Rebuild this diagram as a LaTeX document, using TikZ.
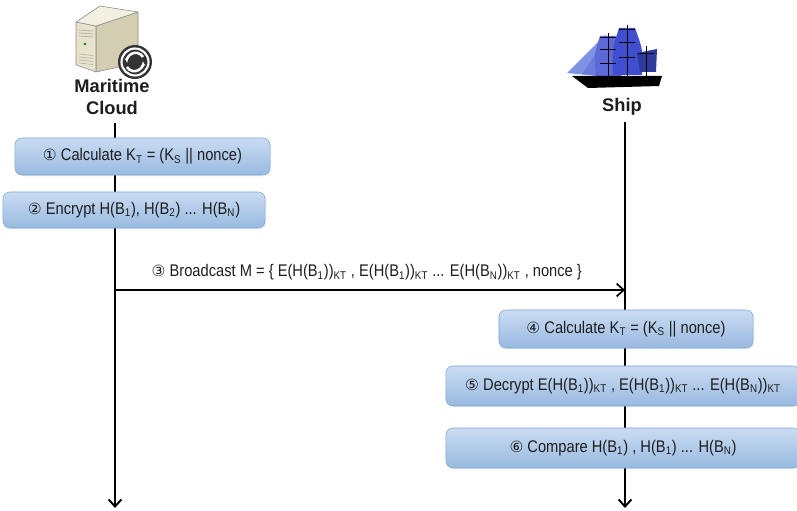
\documentclass[tikz,border=0pt]{standalone}
\usepackage{fontspec}
\setmainfont{Liberation Sans}[FakeStretch=0.87]
\newfontfamily\actorfont{Liberation Sans}
\newfontfamily\circfont{DejaVu Sans}
\usepackage{tikz}
\usetikzlibrary{arrows.meta, positioning, shadows}
\definecolor{boxtop}{HTML}{CADCF2}
\definecolor{boxbottom}{HTML}{98B9E0}
\definecolor{boxedge}{HTML}{7FA6D5}
\definecolor{inkgray}{HTML}{1E1E1E}
\definecolor{caseface}{HTML}{E6E2CC}
\definecolor{caseside}{HTML}{D3CEB2}
\definecolor{casetop}{HTML}{F3F0E2}
\definecolor{sailblue}{HTML}{3F4FCF}
\definecolor{saillight}{HTML}{8090E2}
\newcommand{\lo}[1]{\textsubscript{#1}}
\newcommand{\stepno}[1]{{\circfont\fontsize{11}{13}\selectfont #1}}
\tikzset{
    stepbox/.style={rectangle, rounded corners=5pt, draw=boxedge, top color=boxtop, bottom color=boxbottom, text=inkgray, font=\fontsize{12}{14}\selectfont, inner sep=0pt, drop shadow={opacity=0.12, shadow xshift=1pt, shadow yshift=-1pt}},
    actor/.style={align=center, font=\actorfont\fontsize{13}{15}\selectfont\bfseries, text=inkgray},
    lifeline/.style={line width=1.4pt, -{Straight Barb[length=5pt, width=9pt]}},
    message/.style={line width=1.2pt, -{Straight Barb[length=5pt, width=9pt]}}
}

\begin{document}
\begin{tikzpicture}[x=0.025cm, y=-0.025cm]
    \clip (0,0) rectangle (797,511);

    % server
    \begin{scope}[draw=black!45, line join=round]
        \filldraw[fill=caseside] (96,26) -- (138,12) -- (138,63) -- (96,72) -- cycle;
        \filldraw[fill=caseface] (76,22) -- (96,26) -- (96,72) -- (76,65) -- cycle;
        \filldraw[fill=casetop] (76,22) -- (100,6) -- (138,12) -- (96,26) -- cycle;
        \foreach \y in {30,33,36}
            \draw[black!35] (79,\y) -- (93,\y+1);
        \fill[green!55!black] (85,44) circle (1.3);
        \foreach \y in {54,57,60,63}
            \draw[black!30] (79,\y) -- (93,\y+1.5);
        \fill[black!80] (135,62) circle (17);
        \draw[white, line width=1.5pt] (135,62) circle (13.5);
        \draw[white, line width=1.8pt, -{Stealth[length=3.5pt]}] (143,57) arc (-30:-190:8.5);
        \draw[white, line width=1.8pt, -{Stealth[length=3.5pt]}] (127,67) arc (150:-10:8.5);
    \end{scope}
    \node[actor] (cloud) at (112,97) {Maritime\\Cloud};

    % ship
    \fill[saillight] (567,73) -- (606,34) .. controls (598,50) .. (607,77) -- cycle;
    \fill[saillight!70!sailblue] (582,74) -- (606,38) -- (607,76) -- cycle;
    \fill[sailblue!85] (600,36) -- (616,36) .. controls (622,55) .. (621,77) -- (596,77) .. controls (594,55) .. cycle;
    \fill[sailblue] (619,28) -- (635,28) .. controls (643,50) .. (642,75) -- (613,75) .. controls (612,50) .. cycle;
    \fill[sailblue!75!black] (637,53) -- (657,49) -- (656,72) -- (640,72) -- cycle;
    \foreach \m/\t in {608/33, 627/25, 646/46}
        \draw[black, line width=0.6pt] (\m,\t) -- (\m,78);
    \foreach \m/\h in {608/37, 608/49, 608/63, 627/29, 627/42, 627/57, 646/53}
        \draw[black, line width=0.5pt] (\m-8,\h) -- (\m+8,\h);
    \fill[black] (572,76) -- (662,76) -- (659,86) -- (588,88) -- cycle;
    \node[actor] (ship) at (622,107) {Ship};

    % lifelines
    \coordinate (cloudTop) at (115,123);
    \coordinate (cloudEnd) at (115,508);
    \coordinate (shipTop) at (625,122);
    \coordinate (shipEnd) at (625,508);
    \draw[lifeline] (cloudTop) -- (cloudEnd);
    \draw[lifeline] (shipTop) -- (shipEnd);

    % cloud side
    \node[stepbox, minimum width=6.375cm, minimum height=0.925cm] (s1) at (142.5,156.5)
        {\stepno{①} Calculate K\lo{T} = (K\lo{S} || nonce)};
    \node[stepbox, minimum width=6.55cm, minimum height=0.9cm] (s2) at (134,210)
        {\stepno{②} Encrypt H(B\lo{1}), H(B\lo{2}) ... H(B\lo{N})};

    % broadcast
    \coordinate (cloudMsg) at (115,290);
    \coordinate (shipMsg) at (625,290);
    \draw[message] (cloudMsg) -- (shipMsg)
        node[midway, above=3pt, xshift=-0.08cm, text=inkgray, font=\fontsize{12}{14}\selectfont] (msg)
        {\stepno{③} Broadcast M = \{ E(H(B\lo{1}))\lo{KT} , E(H(B\lo{1}))\lo{KT} ... E(H(B\lo{N}))\lo{KT} , nonce \}};

    % ship side
    \node[stepbox, minimum width=6.35cm, minimum height=0.95cm] (s4) at (626,329)
        {\stepno{④} Calculate K\lo{T} = (K\lo{S} || nonce)};
    \node[stepbox, minimum width=8.85cm, minimum height=1cm] (s5) at (623,386)
        {\stepno{⑤} Decrypt E(H(B\lo{1}))\lo{KT} , E(H(B\lo{1}))\lo{KT} ... E(H(B\lo{N}))\lo{KT}};
    \node[stepbox, minimum width=8.85cm, minimum height=1cm] (s6) at (623,448)
        {\stepno{⑥} Compare H(B\lo{1}) , H(B\lo{1}) ... H(B\lo{N})};
\end{tikzpicture}
\end{document}
